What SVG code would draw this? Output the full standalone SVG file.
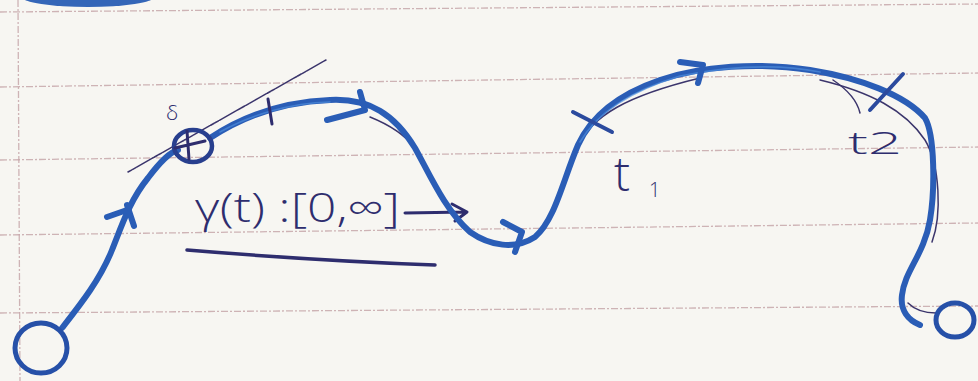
<svg xmlns="http://www.w3.org/2000/svg" width="978" height="381" viewBox="0 0 978 381">
<defs>
<style>
.rule{stroke:#c7a7aa;stroke-width:1.3;stroke-dasharray:7 2 2 2;fill:none;opacity:.85}
.ink{fill:none;stroke:#2a5db6;stroke-width:6;stroke-linecap:round;stroke-linejoin:round}
.inkhi{fill:none;stroke:#4f8ddc;stroke-width:1.6;stroke-linecap:round;opacity:.7}
.thin{fill:none;stroke:#3b356c;stroke-width:1.5;stroke-linecap:round}
.tick{fill:none;stroke:#2b4a9e;stroke-width:4;stroke-linecap:round}
.pen{fill:none;stroke:#2e2d6e;stroke-linecap:round;stroke-linejoin:round}
.lbl{font-family:"Open Sans","DejaVu Sans",sans-serif;fill:#2e2d6e;font-weight:300}
</style>
</defs>
<rect width="978" height="381" fill="#f7f6f2"/>
<g id="paper">
<path class="rule" d="M0,12 L978,4"/>
<path class="rule" d="M0,87 L978,73"/>
<path class="rule" d="M0,160 L978,147"/>
<path class="rule" d="M0,235 L978,223"/>
<path class="rule" d="M0,313 L978,306"/>
<path class="rule" d="M18,0 L20,381"/>
<ellipse cx="88" cy="-3" rx="66" ry="10" fill="#3466b8"/>
</g>
<g id="label">
<text class="lbl" x="195" y="222" font-size="40" textLength="205" lengthAdjust="spacingAndGlyphs">γ(t) :[0,∞]</text>
<path class="pen" stroke-width="3" d="M405,213 L466,212 M452,204 L467,212 L455,221"/>
<path class="pen" stroke-width="3.5" d="M187,250 C260,256 350,262 435,265"/>
<text class="lbl" x="166" y="120" font-size="21">δ</text>
<text class="lbl" x="614" y="191" font-size="48">t</text>
<text class="lbl" x="649" y="197" font-size="20">1</text>
<text class="lbl" x="848" y="154" font-size="32" textLength="54" lengthAdjust="spacingAndGlyphs">t2</text>
</g>
<g id="connectors">
<path class="thin" stroke-dasharray="4 1" d="M128,172 L326,60"/>
<path class="thin" d="M370,117 C390,125 405,135 415,148"/>
<path class="thin" d="M537,234 C555,215 565,178 576,150 C590,115 630,95 700,78"/>
<path class="thin" d="M820,80 C870,92 905,110 925,140 C940,165 942,215 932,242"/>
<path class="thin" d="M908,303 C915,310 925,313 936,313"/>
<path class="thin" stroke="#8a84a8" stroke-width="1" d="M833,80 C848,90 857,100 860,113"/>
<path id="curve" class="ink" d="M62,328 C80,305 100,280 112,250 C122,225 130,200 148,178 C160,162 170,152 178,150 M210,138 C240,118 280,102 330,100 C370,98 395,115 415,148 C430,175 445,210 470,232 C490,246 515,250 535,237 C555,220 563,180 578,145 C593,112 625,92 660,80 C700,66 760,62 810,70 C860,78 905,95 925,118 C935,135 935,190 930,220 C924,255 905,270 902,295 C900,310 908,320 920,325"/>
<path class="inkhi" d="M220,132 C250,115 290,103 330,102 M580,142 C600,108 640,88 680,76 C730,66 780,64 820,72"/>
<path class="ink" stroke-width="4.5" d="M107,217 L127,210 M127,205 L134,226"/>
<path class="ink" stroke-width="4.5" d="M327,120 L365,110 L360,92"/>
<path class="ink" stroke-width="4.5" d="M503,222 L522,232 L515,252"/>
<path class="ink" stroke-width="4.5" d="M680,62 L703,65 L698,83"/>
<path class="pen" stroke-width="3" d="M268,99 L272,124"/>
<path class="tick" d="M573,112 L612,132"/>
<path class="tick" d="M903,74 L870,110"/>
</g>
<g id="start">
<ellipse cx="41" cy="348" rx="26" ry="25" fill="none" stroke="#2650a8" stroke-width="5"/>
</g>
<g id="point">
<ellipse cx="193" cy="146" rx="19" ry="16" fill="none" stroke="#283f8e" stroke-width="4.5"/>
<path class="pen" stroke-width="3" d="M187,131 L189,159 M175,148 L205,141"/>
</g>
<g id="end">
<ellipse cx="955" cy="320" rx="19" ry="17" fill="none" stroke="#2650a8" stroke-width="5"/>
</g>
</svg>
